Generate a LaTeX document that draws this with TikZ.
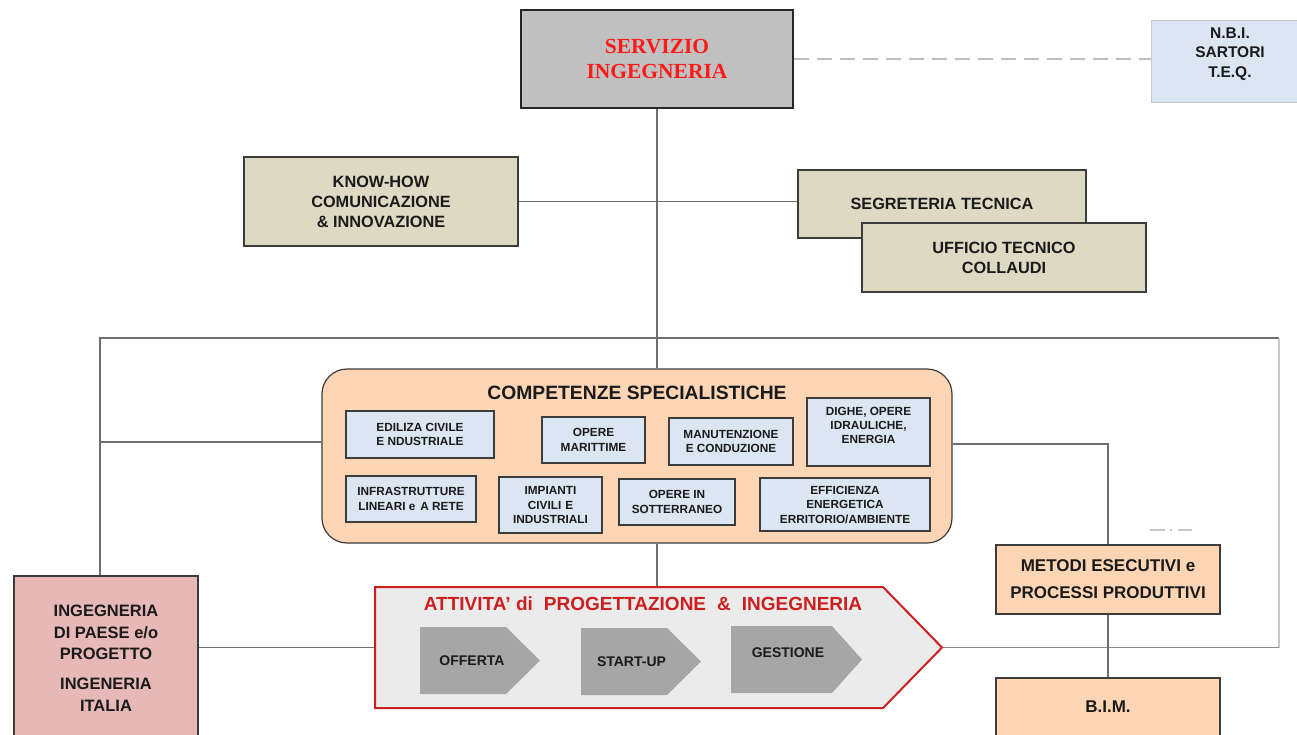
\documentclass[tikz,border=0pt]{standalone}
\usepackage{fontspec}
\setmainfont{Liberation Sans}
\newfontfamily\servfont{Liberation Serif}
\usetikzlibrary{calc,backgrounds}
\definecolor{lineg}{HTML}{6E6E6E}
\definecolor{lightg}{HTML}{C8C8C8}
\definecolor{bordc}{HTML}{3C3C3C}
\definecolor{servg}{HTML}{C0C0C0}
\definecolor{blu}{HTML}{DCE6F2}
\definecolor{tanf}{HTML}{DDD9C3}
\definecolor{peach}{HTML}{FCD5B4}
\definecolor{pinkf}{HTML}{E6B9B8}
\definecolor{chevg}{HTML}{A6A6A6}
\definecolor{attg}{HTML}{EBEBEB}
\definecolor{attred}{HTML}{CC1F1F}
\definecolor{servred}{HTML}{FF1A1A}
\definecolor{txtc}{HTML}{1A1A1A}
\begin{document}
\begin{tikzpicture}[x=1pt,y=-1pt,
  conn/.style={draw=lineg,line width=1.3pt},
  base/.style={draw=bordc,line width=1.2pt,align=center,inner sep=0pt,text=txtc,font=\bfseries\fontsize{16}{20}\selectfont},
  servbox/.style={base,fill=servg,draw=black!85,line width=2.4pt,text=servred,font=\servfont\bfseries\fontsize{21.5}{25}\selectfont},
  nbibox/.style={base,fill=blu,draw=lightg,line width=1pt},
  nbitext/.style={align=center,inner sep=0pt,text=txtc,font=\bfseries\fontsize{15.5}{19.5}\selectfont},
  tanbox/.style={base,fill=tanf,font=\bfseries\fontsize{16.3}{20}\selectfont},
  compbox/.style={base,fill=peach,rounded corners=25pt},
  inbox/.style={base,fill=blu,font=\bfseries\fontsize{11.8}{14.5}\selectfont},
  intext/.style={align=center,inner sep=0pt,text=txtc,font=\bfseries\fontsize{11.8}{14}\selectfont},
  peachbox/.style={base,fill=peach,font=\bfseries\fontsize{17}{27}\selectfont},
  pinkbox/.style={base,fill=pinkf,font=\bfseries\fontsize{16.5}{21.5}\selectfont},
  ghost/.style={inner sep=0pt,outer sep=0pt,draw=none},
  chev/.style={fill=chevg,draw=none},
  chevtext/.style={font=\bfseries\fontsize{14}{16}\selectfont,text=txtc,inner sep=0pt},
]
\useasboundingbox (0,0) rectangle (1297,734);

% top
\node[servbox, minimum width=272pt, minimum height=98pt] (serv) at (657,59) {SERVIZIO\\INGEGNERIA};
\node[nbibox, minimum width=164pt, minimum height=82pt] (nbi) at (1233,61) {};
\node[nbitext] (nbit) at (1230,54) {N.B.I.\\SARTORI\\T.E.Q.};

\node[tanbox, minimum width=274pt, minimum height=89pt] (know) at (381,201.5) {KNOW-HOW\\COMUNICAZIONE\\\& INNOVAZIONE};
\node[tanbox, minimum width=288pt, minimum height=68pt] (segr) at (942,204) {SEGRETERIA TECNICA};
\node[tanbox, minimum width=284pt, minimum height=69pt] (uff) at (1004,257.5) {UFFICIO TECNICO\\COLLAUDI};

% competenze
\node[compbox, minimum width=630pt, minimum height=174pt] (comp) at (637,456) {};
\node[inner sep=0pt, text=txtc, font=\bfseries\fontsize{19.3}{22}\selectfont] (compt) at (637,393) {COMPETENZE SPECIALISTICHE};
\node[inbox, minimum width=148pt, minimum height=47pt] (ed) at (420,434.5) {EDILIZA CIVILE\\E NDUSTRIALE};
\node[inbox, minimum width=103pt, minimum height=46pt] (mar) at (593.5,440) {OPERE\\MARITTIME};
\node[inbox, minimum width=124pt, minimum height=47pt] (man) at (731,441.5) {MANUTENZIONE\\E CONDUZIONE};
\node[inbox, minimum width=123pt, minimum height=68pt] (dig) at (868.5,432) {};
\node[intext] (digt) at (868.5,425) {DIGHE, OPERE\\IDRAULICHE,\\ENERGIA};
\node[inbox, minimum width=130pt, minimum height=46pt] (inf) at (411,499) {INFRASTRUTTURE\\LINEARI e\hspace{5pt}A RETE};
\node[inbox, minimum width=103pt, minimum height=56pt] (imp) at (550.5,505) {IMPIANTI\\CIVILI\hspace{4pt}E\\INDUSTRIALI};
\node[inbox, minimum width=116pt, minimum height=46pt] (sot) at (677,502) {OPERE IN\\SOTTERRANEO};
\node[inbox, minimum width=170pt, minimum height=53pt] (eff) at (845,504.5) {EFFICIENZA\\ENERGETICA\\ERRITORIO/AMBIENTE};

% attivita arrow
\node[ghost, minimum width=567pt, minimum height=121pt] (att) at (658.5,647.5) {};
\draw[fill=attg, draw=attred, line width=2pt, line join=miter]
  (att.north west) -- ([xshift=-59pt]att.north east) -- (att.east) -- ([xshift=-59pt]att.south east) -- (att.south west) -- cycle;
\node[inner sep=0pt, text=attred, font=\bfseries\fontsize{19}{22}\selectfont] (attt) at (643,604)
  {ATTIVITA' di\hspace{11pt}PROGETTAZIONE\hspace{11pt}\&\hspace{11pt}INGEGNERIA};

\node[ghost, minimum width=120pt, minimum height=67pt] (off) at (480,660.5) {};
\fill[chev] (off.north west) -- ([xshift=-34pt]off.north east) -- (off.east) -- ([xshift=-34pt]off.south east) -- (off.south west) -- cycle;
\node[chevtext] (offt) at (472,661) {OFFERTA};

\node[ghost, minimum width=120pt, minimum height=67pt] (stu) at (641,661.5) {};
\fill[chev] (stu.north west) -- ([xshift=-34pt]stu.north east) -- (stu.east) -- ([xshift=-34pt]stu.south east) -- (stu.south west) -- cycle;
\node[chevtext] (stut) at (631.5,662) {START-UP};

\node[ghost, minimum width=131pt, minimum height=67pt] (ges) at (796.5,659.5) {};
\fill[chev] (ges.north west) -- ([xshift=-30pt]ges.north east) -- (ges.east) -- ([xshift=-30pt]ges.south east) -- (ges.south west) -- cycle;
\node[chevtext] (gest) at (788,653) {GESTIONE};

% bottom boxes
\node[pinkbox, minimum width=184pt, minimum height=164pt] (ing) at (106,658)
  {INGEGNERIA\\DI PAESE e/o\\PROGETTO\\[8.5pt]INGENERIA\\ITALIA};
\node[peachbox, minimum width=224pt, minimum height=69pt] (met) at (1108,579.5) {METODI ESECUTIVI e\\PROCESSI PRODUTTIVI};
\node[peachbox, minimum width=224pt, minimum height=58pt] (bim) at (1108,707) {B.I.M.};

% connectors
\coordinate (tl) at (100,338);
\coordinate (tr) at (1279,338);
\coordinate (lj) at (100,442);
\coordinate (rj) at (1108,444);
\begin{pgfonlayer}{background}
\draw[draw=lightg!85!gray, line width=2pt, dash pattern=on 15pt off 8pt] (serv.east) -- (serv.east -| nbi.west);
\draw[conn] (serv.south) -- (serv.south |- comp.north);
\draw[conn] (know.east) -- (know.east -| segr.west);
\draw[conn] (tl |- ing.north) -- (tl) -- (tr);
\draw[conn, draw=lightg] (tr) -- (tr |- att.east);
\draw[conn, draw=lineg!80] (att.east) -- (tr |- att.east);
\draw[conn] (lj) -- (lj -| comp.west);
\draw[conn] (rj -| comp.east) -- (rj) -- (met.north);
\draw[conn] (serv.south |- comp.south) -- (serv.south |- att.north);
\draw[conn] (ing.east |- att.west) -- (att.west);
\draw[conn] (met.south) -- (bim.north);
\end{pgfonlayer}
\draw[lightg, line width=1.5pt, dash pattern=on 15pt off 5pt on 2pt off 6pt] (1150,530) -- (1192,530);
\end{tikzpicture}
\end{document}
